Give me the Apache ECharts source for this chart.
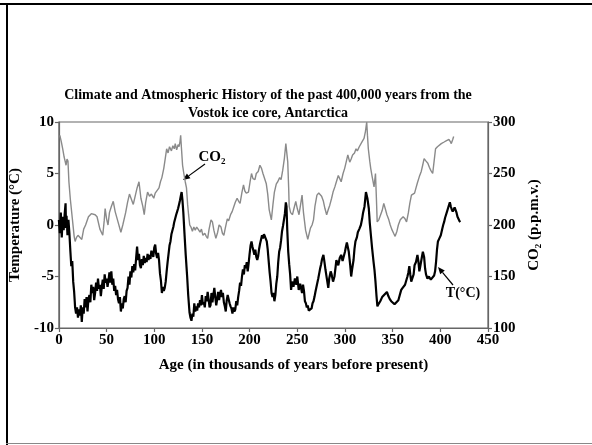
<!DOCTYPE html>
<html>
<head>
<meta charset="utf-8">
<script src="https://cdn.jsdelivr.net/npm/echarts@6/dist/echarts.min.js"></script>
<style>
  html, body { margin: 0; padding: 0; background: #fff; }
  #chart { width: 592px; height: 445px; }
</style>
</head>
<body>
<div id="chart"></div>
<script>
// Vostok ice core: age (kyr BP) vs temperature anomaly (degC) and CO2 (ppmv)
var titleLines = ['Climate and Atmospheric History of the past 400,000 years from the',
                  'Vostok ice core, Antarctica'];
var ageTicks = [0, 50, 100, 150, 200, 250, 300, 350, 400, 450];

var tempData = [
  [0,0.5],[1,-0.8],[2,1.2],[3,-1.2],[4,0.8],[5,-0.5],[6,1.0],[7,2.1],[7.5,-0.3],[8,0.9],[9,-1.0],[10,0.5],[11,-0.8],
  [12,-2.5],[13,-4.0],[14,-3.5],[15,-5.5],[16,-6.5],[17,-8.0],[18,-8.6],[19,-8.0],[20,-9.0],[21,-8.2],[22,-8.8],
  [23,-7.8],[24,-9.4],[25,-8.0],[26,-8.6],[27,-7.2],[28,-8.0],[29,-7.0],[30,-8.4],[31,-7.2],[32,-6.8],[33,-7.5],
  [34,-5.8],[35,-6.6],[36,-6.0],[37,-7.3],[38,-6.6],[39,-5.6],[40,-6.4],[41,-5.2],[42,-6.2],[43,-5.8],[44,-6.9],
  [45,-6.0],[46,-5.3],[47,-6.2],[48,-4.8],[49,-5.6],[50,-5.2],[51,-6.0],[52,-5.4],[53,-4.6],[54,-5.6],[55,-4.5],
  [56,-5.8],[57,-5.2],[58,-6.4],[59,-5.9],[60,-6.8],[61,-6.3],[62,-7.2],[63,-7.6],[64,-7.0],[65,-8.4],[66,-7.6],
  [67,-8.1],[68,-7.2],[69,-6.9],[70,-7.5],[71,-6.4],[72,-6.1],[73,-5.0],[74,-5.8],[75,-4.5],[76,-5.1],[77,-4.0],
  [78,-4.6],[79,-3.8],[80,-4.4],[81,-3.2],[82,-2.1],[83,-3.4],[84,-2.8],[85,-3.9],[86,-4.2],[87,-3.3],[88,-3.9],
  [89,-3.0],[90,-3.7],[91,-3.2],[92,-3.6],[93,-2.8],[94,-3.4],[95,-2.9],[96,-3.3],[97,-2.5],[98,-2.6],[99,-3.1],
  [100,-2.2],[101,-1.9],[102,-2.8],[103,-3.2],[104,-2.7],[105,-3.4],[106,-4.7],[107,-5.4],[108,-6.6],[109,-6.0],
  [110,-6.4],[111,-6.1],[112,-5.5],[113,-4.5],[114,-3.6],[115,-2.8],[116,-2.0],[117,-1.6],[118,-0.9],[119,-0.8],
  [120,-0.2],[121,0.3],[122,0.2],[123,1.0],[124,1.3],[125,1.6],[126,2.0],[127,2.4],[128,2.9],[128.7,3.2],
  [129.5,2.5],[130.5,1.2],[131.5,-0.5],[133,-2.9],[134.5,-5.0],[135.6,-6.8],[137,-8.5],[138,-9.0],[139,-9.3],
  [140,-8.6],[141,-8.9],[142,-7.6],[143,-8.4],[144,-7.9],[145,-8.3],[146,-7.6],[147,-8.0],[148,-7.3],[149,-7.8],
  [150,-6.8],[151,-7.7],[152,-7.5],[153,-8.0],[154,-6.9],[155,-7.4],[156,-6.5],[157,-7.2],[158,-8.0],[159,-7.8],
  [160,-6.6],[161,-7.5],[162,-6.8],[163,-6.1],[164,-7.0],[165,-7.8],[166,-7.2],[167,-6.5],[168,-7.3],[169,-6.7],
  [170,-6.3],[171,-7.0],[172,-6.6],[173,-7.5],[174,-7.9],[175,-8.4],[176,-7.3],[177,-6.8],[178,-6.7],[179,-7.6],
  [180,-7.9],[181,-8.1],[182,-8.6],[183,-8.0],[184,-8.4],[185,-8.2],[186,-7.4],[187,-7.8],[188,-7.0],[189,-6.4],
  [190,-5.6],[191,-5.9],[192,-5.0],[193,-4.3],[194,-4.8],[195,-3.9],[196,-4.2],[197,-3.6],[198,-4.5],[199,-3.7],
  [200,-2.8],[201,-2.0],[202,-1.6],[203,-2.1],[204,-2.5],[205,-2.9],[206,-2.4],[207,-3.1],[208,-3.4],[209,-3.0],
  [210,-2.3],[211,-1.8],[212,-1.4],[213,-1.0],[214,-1.3],[215,-0.9],[216,-1.1],[217,-1.0],[218,-1.6],[219,-2.4],
  [220,-3.5],[221,-4.6],[222,-5.5],[223,-6.6],[224,-7.0],[225,-6.6],[226,-7.4],[227,-6.8],[228,-5.7],[229,-5.0],
  [230,-3.6],[231,-2.6],[232,-2.2],[233,-1.5],[234,-0.6],[235,-0.1],[236,0.5],[237,1.1],[238,2.2],[238.7,1.8],
  [239.5,-0.5],[240.5,-2.6],[241.5,-3.8],[242.5,-4.8],[243.5,-6.3],[244.5,-5.5],[246,-6.0],[247.5,-5.2],[249,-5.8],
  [250,-5.0],[251.5,-6.3],[253,-5.7],[255,-6.6],[256,-5.8],[257,-6.4],[258,-7.4],[259,-7.6],[260,-8.0],[261,-7.8],
  [262,-8.3],[263.5,-8.4],[265,-8.1],[266,-7.6],[267,-7.4],[268,-7.0],[269,-6.5],[270.6,-5.8],[272,-5.2],[273,-4.7],
  [274,-4.2],[275,-3.8],[276,-3.3],[277.4,-2.9],[278.5,-3.6],[279.5,-4.3],[281,-5.2],[282.5,-6.1],[283.5,-5.2],
  [285,-4.5],[286,-4.8],[287.5,-5.5],[289,-5.0],[290,-4.2],[291,-3.4],[292,-3.7],[293,-3.9],[294.5,-3.2],[296,-2.9],
  [297.5,-3.5],[299,-3.6],[300,-2.6],[301,-2.1],[302,-1.7],[303,-1.6],[304,-2.6],[305.5,-3.9],[306.5,-5.0],
  [307.5,-4.3],[309,-3.4],[310,-2.3],[311,-1.6],[312.5,-1.2],[313.5,-0.7],[315,-0.4],[316.7,0.0],[318,0.6],
  [319,1.2],[320.5,1.8],[322,3.2],[323.5,2.6],[325,1.6],[326,0.2],[327,-0.8],[328.5,-2.3],[330,-3.6],[331,-4.4],
  [332,-5.5],[333,-6.8],[334,-7.9],[335,-7.7],[336,-7.8],[337,-7.4],[338,-7.3],[339,-7.0],[340.5,-7.1],[342,-6.7],
  [344,-6.5],[345.5,-6.9],[347,-7.2],[348.5,-7.4],[350,-7.5],[352,-7.7],[354,-7.6],[356,-7.3],[357.5,-6.8],
  [359,-6.3],[360.5,-6.1],[362,-6.2],[363,-5.8],[364.5,-5.8],[365.5,-5.0],[366.5,-4.6],[367.5,-4.0],[368.5,-4.8],
  [369.5,-5.5],[371,-5.6],[372,-4.8],[373,-3.9],[374.5,-3.6],[376,-2.9],[377,-3.5],[378,-4.5],[379,-4.0],
  [380.5,-3.2],[381.7,-2.6],[383,-3.1],[384,-4.2],[385,-4.8],[386.5,-5.2],[388,-5.0],[390,-5.3],[392,-5.2],
  [393.5,-4.9],[394.5,-4.5],[395.5,-3.6],[396.5,-2.4],[397.5,-1.6],[399,-1.3],[400.5,-1.0],[402,-0.4],[403,0.0],
  [404,0.3],[405,0.7],[406,1.0],[407,1.3],[408,1.6],[409,1.9],[410,2.2],[411,1.8],[412,1.5],[413,1.3],[414,1.5],
  [415,1.7],[416,1.6],[417,1.2],[418,0.8],[419,0.6],[420,0.4],[421,0.3]
];

var co2Data = [
  [1,287],[2.5,281],[4,274],[5.5,266],[6.5,262],[7.5,258],[8.5,264],[9.5,262],[10.5,242],[12,225],[14,207],[16,189],
  [17,184],[18.5,188],[20,190],[22,189],[24,186],[26,196],[28,200],[31,208],[34,211],[38,210],[40,208],[43,196],
  [46,190],[47.5,204],[48.5,216],[50,206],[51.5,200],[53,212],[55,218],[57,223],[59,213],[62,203],[65,193],[67,200],
  [70,212],[72,222],[74,230],[76,225],[78,220],[80,228],[82,236],[84,242],[86,226],[88,218],[89.5,210],[91,222],
  [93,232],[95,228],[97,230],[99.5,226],[101,231],[103,231],[105,236],[106.5,242],[108,246],[110,255],[111.6,265],
  [113,274],[114.5,270],[116,276],[118,272],[119.5,277],[121,274],[122,279],[123.5,273],[125,278],[126,276],
  [127,281],[127.7,287],[128.5,275],[129.7,258],[131,250],[132.5,242],[133.8,236],[135,220],[136,210],[137.2,200],
  [138.5,198],[140,194],[141.5,198],[143,195],[144.5,198],[146,196],[148,193],[149.5,196],[151,190],[153,192],
  [154.5,189],[156,187],[157.5,196],[159.5,205],[161,203],[162.5,195],[164.6,187],[166.5,193],[168,200],[170,198],
  [171.5,192],[173,190],[174.5,197],[176.6,206],[178,204],[180,210],[181.7,213],[183.5,218],[185,222],[186.9,226],
  [188.5,223],[190,221],[192,232],[193.6,239],[195,233],[196.5,231],[198.8,232],[200.5,242],[202,250],[203.5,245],
  [205.6,244],[207,250],[209,252],[210.8,258],[212.5,255],[214,250],[216,249],[217.5,240],[219,230],[220.5,215],
  [222.8,205],[224.5,220],[226,232],[228,240],[229.5,242],[231.5,246],[233,244],[234.7,253],[236.5,265],[238,279],
  [239,270],[240,261],[241,235],[241.5,218],[243,212],[245,210],[246.5,216],[248.4,223],[250,216],[251.8,210],
  [253.5,220],[255,229],[256.5,212],[258.7,195],[260,190],[261,186],[262.5,192],[263.8,197],[265.5,200],[267,205],
  [268.5,218],[270.6,229],[272.5,231],[274,232],[275.5,228],[277.4,223],[279,216],[280.8,210],[282.5,215],[284,219],
  [286,226],[287.5,232],[289.4,237],[291,242],[293,248],[294.5,245],[296,242],[298,250],[299.7,255],[301.5,262],
  [303,268],[305,261],[306.5,264],[308,268],[310,270],[311.6,274],[313,272],[315,276],[316.7,277],[318,281],
  [320,284],[321.5,291],[322.8,300],[323.6,287],[324.5,274],[326,262],[327,255],[328.5,247],[330.5,237],[332,250],
  [333,225],[333.8,203],[335.5,205],[337,206],[339,214],[340.7,221],[342.5,215],[344,210],[346,205],[347.5,200],
  [349,196],[351,192],[352.6,189],[354.5,194],[356,200],[358,205],[361,208],[363,206],[364.6,203],[366.5,212],
  [368,221],[369.7,229],[371,228],[373,231],[374.5,236],[376,241],[378,247],[380,252],[381.5,258],[383,264.5],
  [385,262],[386.9,260],[388.5,256],[390,253],[392,250],[393.5,262],[395,274],[397,276],[398.8,277],[401,279],
  [404,280.6],[406.5,282],[409,283],[410.5,281],[411.5,279],[413,283],[414,286]
];

var serif = "'Liberation Serif', 'DejaVu Serif', serif";
var labelStyle = { color: '#000', fontFamily: serif, fontWeight: 'bold', fontSize: 15 };
var nameStyle = { color: '#000', fontFamily: serif, fontWeight: 'bold', fontSize: 15 };
var axisLine = { onZero: false, lineStyle: { color: '#666', width: 1.2 } };
var axisTick = { inside: false, length: 4, lineStyle: { color: '#666', width: 1.2 } };

function arrow(x1, y1, x2, y2) {
  // line from (x1,y1) to tip (x2,y2) with a small filled head
  var dx = x2 - x1, dy = y2 - y1;
  var len = Math.sqrt(dx * dx + dy * dy);
  var ux = dx / len, uy = dy / len;
  var bx = x2 - ux * 7, by = y2 - uy * 7;
  return [
    { type: 'line', shape: { x1: x1, y1: y1, x2: bx, y2: by }, style: { stroke: '#000', lineWidth: 1.2 } },
    { type: 'polygon', shape: { points: [[x2, y2], [bx - uy * 3, by + ux * 3], [bx + uy * 3, by - ux * 3]] },
      style: { fill: '#000' } }
  ];
}

var myChart = echarts.init(document.getElementById('chart'));
var graphics = [
  { type: 'rect', shape: { x: 0, y: 3, width: 592, height: 2 }, style: { fill: '#000' } },
  { type: 'rect', shape: { x: 6, y: 3, width: 2, height: 442 }, style: { fill: '#000' } },
  { type: 'rect', shape: { x: 6, y: 443, width: 586, height: 1 }, style: { fill: '#888' } },
  { type: 'text', x: 268, y: 95, style: { text: titleLines[0], textAlign: 'center', textVerticalAlign: 'middle',
      font: 'bold 14px ' + serif, fill: '#000' } },
  { type: 'text', x: 268, y: 113, style: { text: titleLines[1], textAlign: 'center', textVerticalAlign: 'middle',
      font: 'bold 14px ' + serif, fill: '#000' } },
  { type: 'text', x: 212, y: 157, style: { text: 'CO₂', textAlign: 'center', textVerticalAlign: 'middle',
      font: 'bold 15px ' + serif, fill: '#000' } },
  { type: 'text', x: 463, y: 293, style: { text: 'T(°C)', textAlign: 'center', textVerticalAlign: 'middle',
      font: 'bold 14px ' + serif, fill: '#000' } }
].concat(arrow(205, 164, 183, 180)).concat(arrow(453, 285, 438, 267));

var option = {
  backgroundColor: '#fff',
  animation: false,
  grid: { left: 50, right: 104, top: 122, bottom: 117, show: true, borderColor: '#666', borderWidth: 1.2 },
  xAxis: {
    type: 'value', min: 0, max: 450, interval: 50,
    name: 'Age (in thousands of years before present)',
    nameLocation: 'middle', nameGap: 30,
    nameTextStyle: Object.assign({ padding: [0, 0, 0, 40] }, nameStyle),
    axisLine: axisLine, axisTick: axisTick,
    axisLabel: Object.assign({ margin: 5 }, labelStyle),
    splitLine: { show: false }
  },
  yAxis: [{
    type: 'value', min: -10, max: 10, interval: 5,
    name: 'Temperature (°C)', nameLocation: 'middle', nameGap: 29, nameRotate: 90,
    nameTextStyle: nameStyle,
    axisLine: Object.assign({ show: true }, axisLine), axisTick: axisTick,
    axisLabel: Object.assign({ margin: 5 }, labelStyle),
    splitLine: { show: false }
  }, {
    type: 'value', min: 100, max: 300, interval: 50, position: 'right',
    name: 'CO₂ (p.p.m.v.)', nameLocation: 'middle', nameGap: 31, nameRotate: 90,
    nameTextStyle: nameStyle,
    axisLine: Object.assign({ show: true }, axisLine), axisTick: axisTick,
    axisLabel: Object.assign({ margin: 5 }, labelStyle),
    splitLine: { show: false }
  }],
  series: [{
    name: 'CO2', type: 'line', yAxisIndex: 1, data: co2Data, showSymbol: false, symbol: 'none',
    lineStyle: { color: '#8a8a8a', width: 1.4 }
  }, {
    name: 'T', type: 'line', yAxisIndex: 0, data: tempData, showSymbol: false, symbol: 'none',
    lineStyle: { color: '#000', width: 2.2 }
  }],
  graphic: graphics
};
myChart.setOption(option);
</script>
</body>
</html>
